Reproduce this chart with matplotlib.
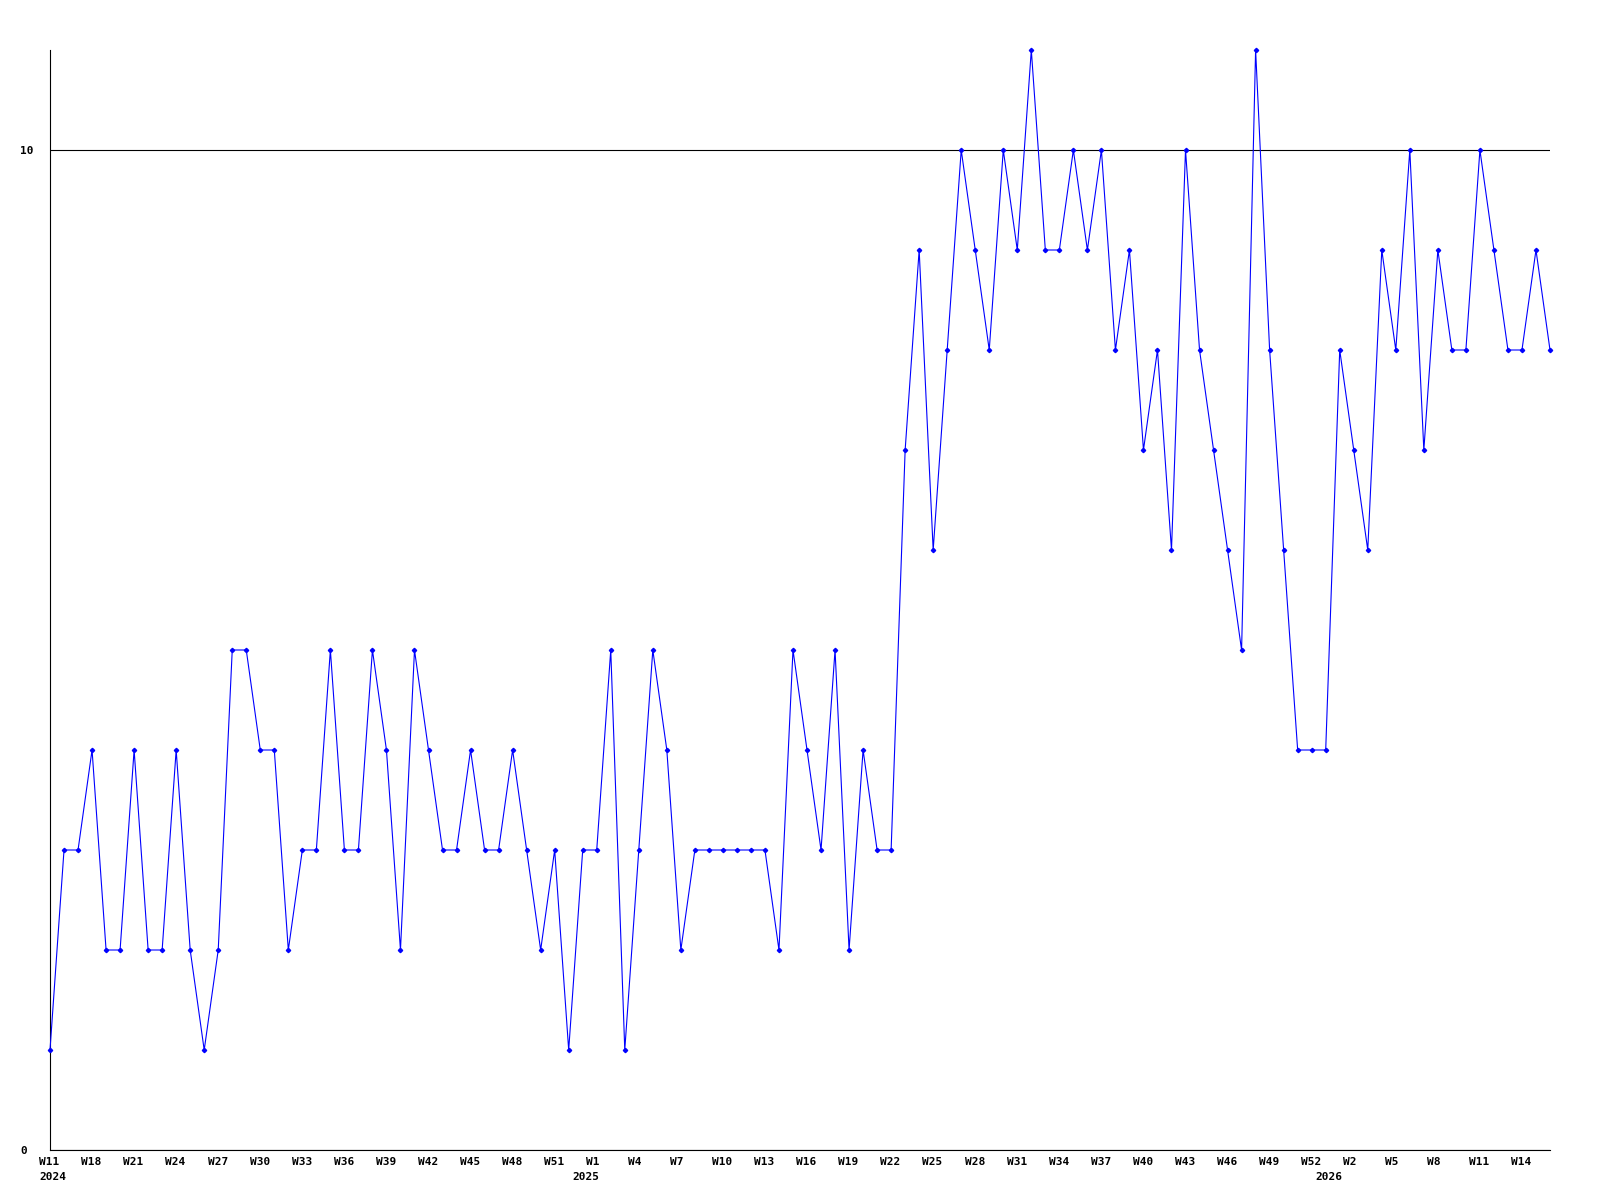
import matplotlib
matplotlib.use("Agg")
import matplotlib.pyplot as plt
import matplotlib.transforms as mtransforms

# weekly values, one per week
values = [1, 3, 3, 4, 2, 2, 4, 2, 2, 4,
          2, 1, 2, 5, 5, 4, 4, 2, 3, 3,
          5, 3, 3, 5, 4, 2, 5, 4, 3, 3,
          4, 3, 3, 4, 3, 2, 3, 1, 3, 3,
          5, 1, 3, 5, 4, 2, 3, 3, 3, 3,
          3, 3, 2, 5, 4, 3, 5, 2, 4, 3,
          3, 7, 9, 6, 8, 10, 9, 8, 10, 9,
          11, 9, 9, 10, 9, 10, 8, 9, 7, 8,
          6, 10, 8, 7, 6, 5, 11, 8, 6, 4,
          4, 4, 8, 7, 6, 9, 8, 10, 7, 9,
          8, 8, 10, 9, 8, 8, 9, 8]

week_labels = ["W11", "W18", "W21", "W24", "W27", "W30", "W33", "W36", "W39",
               "W42", "W45", "W48", "W51", "W1", "W4", "W7", "W10", "W13",
               "W16", "W19", "W22", "W25", "W28", "W31", "W34", "W37", "W40",
               "W43", "W46", "W49", "W52", "W2", "W5", "W8", "W11", "W14"]
week_label_pos = list(range(0, 106, 3))

years = ["2024", "2025", "2026"]
year_pos = [0, 38, 91]

fig = plt.figure(figsize=(16, 12), dpi=100)
ax = fig.add_axes([50 / 1600, 50 / 1200, 1500 / 1600, 1100 / 1200])

x = list(range(len(values)))
ax.plot(x, values, color="#0000ff", lw=0.8, marker="D", markersize=2.2,
        clip_on=False, zorder=3)

ax.set_xlim(0, len(values) - 1)
ax.set_ylim(0, 11)

font = dict(family="DejaVu Sans Mono", weight="bold", size=8)

ax.set_yticks([0, 10])
ax.set_yticklabels(["0", "10"], **font)
for lab in ax.get_yticklabels():
    lab.set_horizontalalignment("left")
ax.tick_params(axis="y", length=0, pad=21.5)
ax.grid(axis="y", color="black", lw=0.8)

ax.set_xticks([])

# labels start a little left of their week, like the original
shift = mtransforms.ScaledTranslation(-10.7 / 100, 0, fig.dpi_scale_trans)
trans = mtransforms.blended_transform_factory(ax.transData, ax.transAxes) + shift
for lab, p in zip(week_labels, week_label_pos):
    ax.text(p, -0.0105, lab, transform=trans, ha="left", va="center", **font)
for yr, p in zip(years, year_pos):
    ax.text(p, -0.0245, yr, transform=trans, ha="left", va="center", **font)

for side in ["top", "right"]:
    ax.spines[side].set_visible(False)
for side in ["left", "bottom"]:
    ax.spines[side].set_linewidth(0.8)
    ax.spines[side].set_color("black")

fig.savefig("out.png", dpi=100)
